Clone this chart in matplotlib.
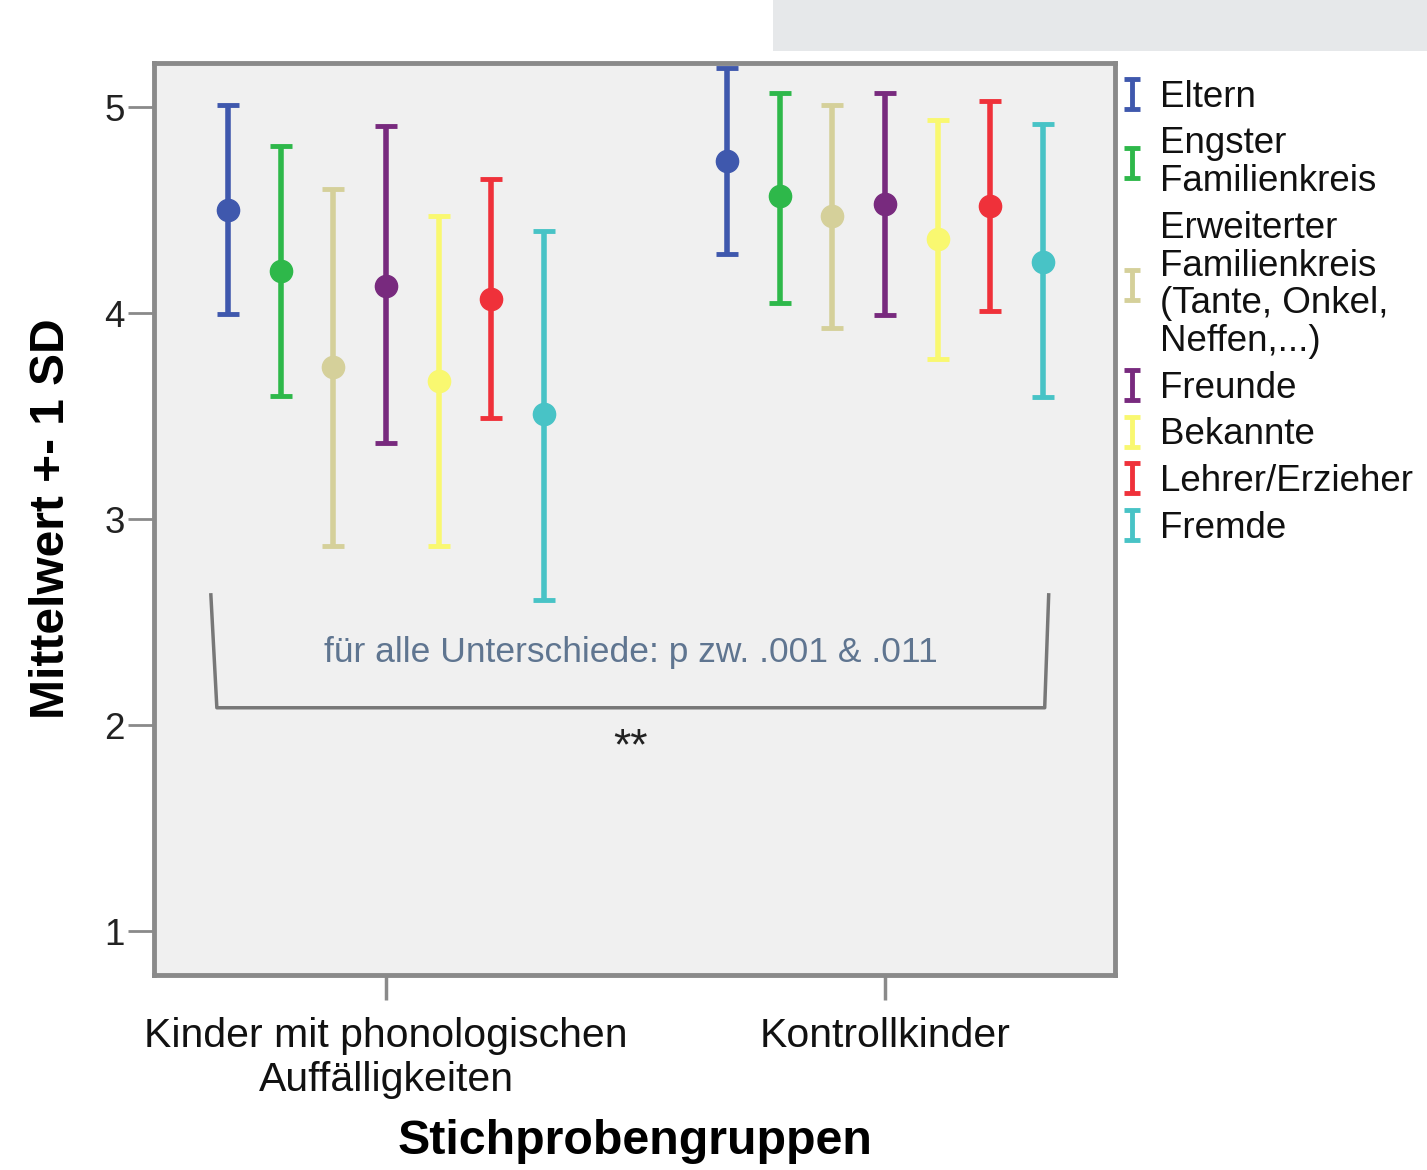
import numpy as np
import matplotlib
matplotlib.use("Agg")
import matplotlib.pyplot as plt
from matplotlib.path import Path
from matplotlib.lines import Line2D
from matplotlib.patches import Rectangle

plt.rcParams['font.family'] = ['Liberation Sans', 'DejaVu Sans']

groups = ["Kinder mit phonologischen\nAuffälligkeiten", "Kontrollkinder"]
series = ["Eltern", "Engster\nFamilienkreis",
          "Erweiterter\nFamilienkreis\n(Tante, Onkel,\nNeffen,...)",
          "Freunde", "Bekannte", "Lehrer/Erzieher", "Fremde"]
colors = ["#3f58ad", "#2eb84a", "#d5d09a", "#782a7e", "#f9f870", "#ef313a", "#48c3c6"]

# means per series: [phonological group, control group]
means = [[4.50, 4.74], [4.205, 4.57], [3.74, 4.47], [4.13, 4.53],
         [3.67, 4.36], [4.07, 4.52], [3.51, 4.25]]
upper = [[5.01, 5.19], [4.81, 5.07], [4.605, 5.01], [4.91, 5.07],
         [4.47, 4.94], [4.65, 5.03], [4.40, 4.92]]
lower = [[3.995, 4.29], [3.60, 4.05], [2.87, 3.93], [3.37, 3.99],
         [2.87, 3.78], [3.49, 4.01], [2.61, 3.595]]

yticks = [1, 2, 3, 4, 5]
annotation_text = "für alle Unterschiede: p zw. .001 & .011"
stars = "**"

fig = plt.figure(figsize=(14.27, 11.70), dpi=100)
# faint watermark band at the top
fig.patches.append(Rectangle((0.542, 0.956), 0.458, 0.044, transform=fig.transFigure,
                             facecolor="#e6e8ea", edgecolor="none", zorder=0))
ax = fig.add_axes([0.1079, 0.1667, 0.6735, 0.7795])
ax.set_facecolor("#f0f0f0")

n = len(series)
offset = 0.1055
xg = np.arange(len(groups))
for i in range(n):
    x = xg + (i - (n - 1) / 2) * offset
    m = np.array(means[i])
    lo = m - np.array(lower[i])
    hi = np.array(upper[i]) - m
    ax.errorbar(x, m, yerr=[lo, hi], fmt='o', color=colors[i], ecolor=colors[i],
                elinewidth=4.0, capsize=8, capthick=3.5, markersize=16, zorder=3)

ax.set_xlim(-0.465, 1.461)
ax.set_ylim(0.788, 5.215)
ax.set_yticks(yticks)
ax.set_yticklabels([str(t) for t in yticks])
ax.set_xticks(xg)
ax.set_xticklabels(groups, linespacing=1.2)
ax.tick_params(axis='y', length=19, width=2, color="#8a8a8a", labelsize=26.5, pad=2,
               labelcolor="#222222")
ax.tick_params(axis='x', length=18, width=2.5, color="#8a8a8a", labelsize=29.5, pad=12,
               labelcolor="#111111")
for s in ax.spines.values():
    s.set_color("#8a8a8a")
    s.set_linewidth(3.5)

ax.set_xlabel("Stichprobengruppen", fontsize=34.8, fontweight='bold', labelpad=15)
ax.set_ylabel("Mittelwert +- 1 SD", fontsize=34.5, fontweight='bold', labelpad=22)

# significance bracket
bx0, bx1, by0, by1 = -0.351, 1.328, 2.633, 2.085
ax.plot([bx0, bx0 + 0.012, bx1 - 0.008, bx1], [by0, by1, by1, by0],
        color="#777777", lw=2.5, zorder=2)
ax.text(0.49, 2.355, annotation_text, ha='center', va='center',
        fontsize=25.5, color="#5f7590")
ax.text(0.49, 1.89, stars, ha='center', va='center', fontsize=32,
        color="#222222")

# legend with I-beam symbols
ibeam = Path([(-0.5, 1), (0.5, 1), (0, 1), (0, -1), (-0.5, -1), (0.5, -1)],
             [Path.MOVETO, Path.LINETO, Path.MOVETO, Path.LINETO, Path.MOVETO, Path.LINETO])
handles = [Line2D([], [], marker=ibeam, markersize=22, markeredgewidth=3.5,
                  markerfacecolor='none', markeredgecolor=c, linestyle='none')
           for c in colors]
leg = fig.legend(handles, series, loc='upper left', bbox_to_anchor=(0.7855, 0.932),
                 frameon=False, fontsize=26.5, handlelength=0.6, handletextpad=0.45,
                 labelspacing=0.32, borderaxespad=0, borderpad=0)
for t in leg.get_texts():
    t.set_linespacing(1.1)
    t.set_color("#111111")

fig.savefig("out.png", dpi=100)
